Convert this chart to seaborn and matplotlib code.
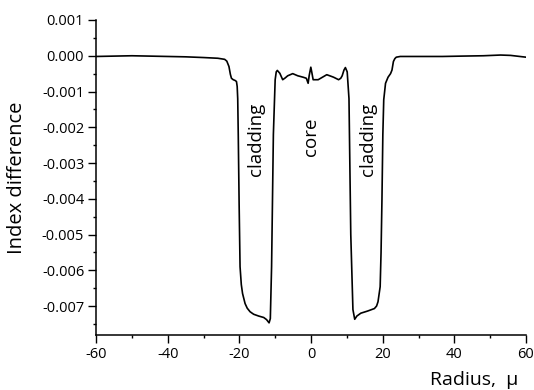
import numpy as np
import pandas as pd
import matplotlib
matplotlib.use("Agg")
import matplotlib.pyplot as plt
import seaborn as sns
from matplotlib.ticker import MultipleLocator, FuncFormatter

radius = [-60, -55, -50, -45, -40, -35, -30, -26, -24.1, -23.5, -22.9, -22.5, -22.2, -21.7, -21.2, -20.8,
          -20.6, -20.45, -20.3, -20.05, -19.8, -19.45, -19.1, -18.4, -17.8, -17.0, -16.0, -14.6, -13.2, -12.4,
          -11.7, -11.35, -11.0, -10.5, -10.0, -9.7, -9.4, -8.7, -7.9, -7.2, -6.5, -5.1, -3.7, -2.2, -1.3,
          -0.8, -0.5, -0.05, 0.2, 0.6, 2.0, 3.2, 4.4, 5.5, 6.3, 7.7, 8.3, 8.7, 9.2, 9.6, 10.1, 10.6,
          11.1, 11.7, 12.2, 12.8, 13.9, 15.8, 17.7, 18.3, 18.7, 19.3, 19.55, 19.8, 20.05, 20.3, 20.8,
          21.5, 22.2, 22.6, 23.0, 23.4, 23.8, 24.9, 30, 36.7, 42, 48.1, 52.9, 55.7, 60]
index_diff = [-0.00002, -0.00001, 0.0, -0.00001, -0.00002, -0.00003, -0.00005, -0.00007, -0.00010, -0.00015,
              -0.00030, -0.00052, -0.00063, -0.00067, -0.00069, -0.00072,
              -0.00086, -0.0012, -0.0022, -0.0042, -0.0059, -0.0064, -0.00665, -0.00693, -0.00706, -0.00716,
              -0.00723, -0.00728, -0.00732, -0.00738,
              -0.00747, -0.00735, -0.0059, -0.0022, -0.00067, -0.00045, -0.00041, -0.00049, -0.00067, -0.00062,
              -0.00056, -0.00050, -0.00056, -0.00060, -0.00063,
              -0.00077, -0.00055, -0.00032, -0.00045, -0.00067, -0.00067, -0.00060, -0.00053, -0.00057,
              -0.00060, -0.00067, -0.00063, -0.00056, -0.00040, -0.00033, -0.00045, -0.0012,
              -0.0050, -0.0071, -0.00737, -0.00728, -0.00720, -0.00714, -0.00707, -0.00700, -0.00688, -0.00646,
              -0.0055, -0.00403, -0.0022, -0.00123, -0.00077,
              -0.00060, -0.00050, -0.00040, -0.00016, -0.00008, -0.00004, -0.00002, -0.00002, -0.00002,
              -0.00001, 0.0, 0.00002, 0.00001, -0.00004]

region_labels = ["cladding", "core", "cladding"]
region_x = [-15.4, -0.1, 15.8]
region_y = [-0.00235, -0.00226, -0.00235]

xticks = [-60, -40, -20, 0, 20, 40, 60]

df = pd.DataFrame({"radius": radius, "index_diff": index_diff})

sns.set_theme(style="ticks")
plt.rcParams["font.family"] = ["Open Sans", "DejaVu Sans"]
plt.rcParams["axes.unicode_minus"] = False

fig = plt.figure(figsize=(5.34, 3.90), dpi=100)
ax = fig.add_axes([96/534, 1-335/390, (526-96)/534, (335-20)/390])

sns.lineplot(data=df, x="radius", y="index_diff", ax=ax, color="black",
             linewidth=1.2, sort=False, estimator=None)

ax.set_xlim(-60, 60)
ax.set_ylim(-0.00781, 0.001)
ax.set_xticks(xticks)
ax.xaxis.set_minor_locator(MultipleLocator(10))
ax.yaxis.set_major_locator(MultipleLocator(0.001))
ax.yaxis.set_minor_locator(MultipleLocator(0.0005))
ax.yaxis.set_major_formatter(FuncFormatter(lambda v, p: "0.000" if abs(v) < 1e-9 else f"{v:.3f}"))
ax.xaxis.set_major_formatter(FuncFormatter(lambda v, p: f"{v:.0f}"))

for s in ["top", "right"]:
    ax.spines[s].set_visible(False)
for s in ["left", "bottom"]:
    ax.spines[s].set_linewidth(1.1)
    ax.spines[s].set_color("black")

ax.tick_params(axis="both", which="major", direction="out", length=5.5, width=1.0,
               labelsize=10.5, colors="black", pad=3)
ax.tick_params(axis="both", which="minor", direction="out", length=2.3, width=1.0, colors="black")

for lab, xx, yy in zip(region_labels, region_x, region_y):
    ax.text(xx, yy, lab, rotation=90, ha="center", va="center", fontsize=13.5, color="black")

ax.set_ylabel("Index difference", fontsize=14.5, color="black")
ax.yaxis.set_label_coords(-0.16, 0.5)
ax.set_xlabel("Radius,  μ", fontsize=14, color="black", loc="right")
ax.xaxis.set_label_coords((518-96)/430, -45/315)
ax.xaxis.label.set_va("center")

fig.savefig("out.png", dpi=100)
